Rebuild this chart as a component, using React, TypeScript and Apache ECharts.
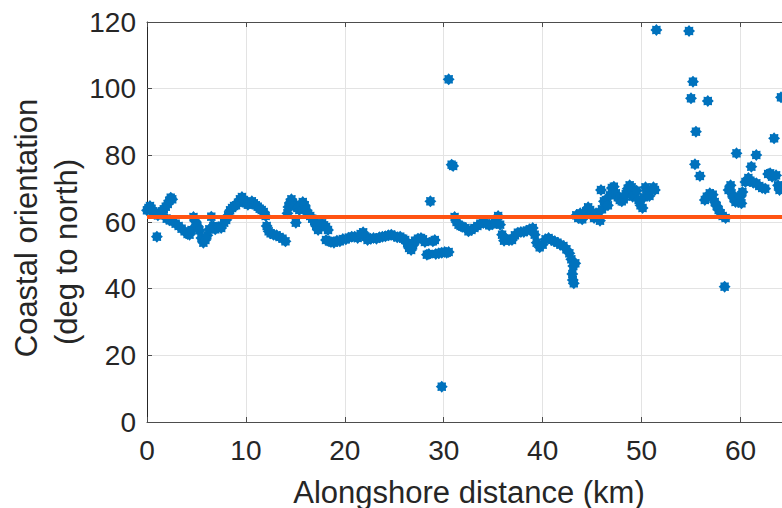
import React, { useEffect, useRef } from "react";
import * as echarts from "echarts";

// Alongshore distance (km) and coastal orientation (deg to north)
const distanceKm: number[] = [
  0.0, 0.15, 0.3, 0.45, 0.6, 0.8, 1.0, 1.1, 1.3, 1.5, 1.7, 1.9, 2.1, 2.25, 2.4, 2.55, 2.0, 2.3, 2.6, 2.9,
  3.2, 3.5, 3.8, 4.1, 4.3, 4.5, 4.7, 4.9, 5.1, 5.3, 5.5, 5.7, 5.9, 6.1, 6.3, 6.5, 6.7, 6.9, 7.2, 7.5,
  7.8, 8.0, 8.2, 8.4, 8.6, 8.8, 9.0, 9.2, 9.4, 9.6, 9.8, 10.0, 10.2, 10.4, 10.6, 10.8, 11.0, 11.2, 11.4, 11.6,
  11.8, 12.0, 12.1, 12.3, 12.5, 12.8, 13.1, 13.4, 13.7, 14.0, 14.2, 14.3, 14.45, 14.6, 14.75, 14.9, 15.05, 15.2, 15.4, 15.55,
  15.75, 15.95, 16.1, 16.3, 16.5, 16.7, 16.9, 17.1, 17.3, 17.5, 17.7, 17.9, 18.1, 18.3, 18.1, 18.4, 18.6,
  18.9, 19.2, 19.5, 19.8, 20.1, 20.4, 20.7, 21.0, 21.3, 21.6, 21.85, 22.1, 22.3, 22.6, 22.9, 23.2, 23.5, 23.8, 24.1, 24.4,
  24.7, 25.0, 25.3, 25.6, 25.9, 26.1, 26.3, 26.5, 26.7, 26.9, 27.1, 27.4, 27.7, 27.9, 28.1, 28.3, 28.5, 28.65, 28.9, 29.1,
  29.2, 29.5, 29.8, 29.8, 30.1, 30.3, 30.5, 30.5, 30.8, 30.95,
  31.1, 31.3, 31.5, 31.7, 31.9, 32.2, 32.5, 32.8, 33.1, 33.4, 33.7, 34.0, 34.3, 34.6, 34.9, 35.2, 35.5, 35.7, 35.9, 36.1,
  36.3, 36.6, 36.9, 37.2, 37.5, 37.8, 38.1, 38.4, 38.7, 39.0, 39.2, 39.4, 39.7, 40.0, 40.3, 40.6, 40.9, 41.2, 41.5, 41.8,
  42.1, 42.4, 42.7, 42.9, 43.1, 43.0, 43.05, 43.15, 43.3,
  43.4, 43.6, 43.8, 44.0, 44.2, 44.4, 44.6, 44.8, 45.0, 45.2, 45.4, 45.6, 45.8, 45.9, 46.0, 46.2, 46.4, 46.6, 46.8, 47.0,
  47.2, 47.4, 47.6, 47.8, 48.0, 48.2, 48.4, 48.6, 48.8, 49.0, 49.1, 49.3, 49.5, 49.7, 49.9, 50.1, 50.25, 50.4, 50.6, 50.8,
  51.0, 51.2, 51.35, 51.5,
  54.8, 55.0, 55.2, 55.5, 55.4, 55.9, 56.4, 56.7, 56.6, 56.9, 57.2, 57.4, 57.6, 57.8, 58.0, 58.2, 58.5, 58.4, 58.8, 59.0,
  59.1, 59.3, 59.5, 59.6, 59.8, 60.0, 60.1, 60.2, 60.5, 60.8, 61.0, 61.1, 61.3, 61.6, 61.6, 61.9, 62.2, 62.5, 62.8, 63.0,
  63.2, 63.4, 63.6, 63.8, 63.95, 64.1,
];

const orientationDeg: number[] = [
  63.5, 64.2, 64.8, 64.0, 63.2, 62.5, 55.6, 62.0, 62.8, 63.2, 63.8, 64.6, 65.4, 66.4, 67.3, 66.8, 61.0, 60.5, 60.2, 59.5,
  58.8, 58.0, 57.2, 56.4, 56.2, 57.6, 61.5, 60.2, 58.8, 57.5, 55.2, 53.8, 54.6, 56.0, 57.8, 61.6, 58.8, 57.8, 58.5, 58.2,
  59.8, 60.6, 62.0, 63.5, 64.2, 64.8, 65.0, 65.8, 66.8, 67.5, 66.6, 65.6, 65.2, 65.6, 66.2, 65.6, 65.0, 64.6, 64.0, 63.6,
  63.0, 61.8, 58.8, 57.2, 56.6, 56.2, 56.0, 55.5, 55.0, 54.2, 62.6, 64.5, 65.8, 66.8, 65.8, 64.8, 59.8, 64.2, 63.6, 65.2,
  66.0, 65.0, 63.6, 62.4, 61.8, 61.0, 60.2, 58.8, 57.6, 59.2, 59.6, 59.0, 58.5, 57.6, 54.6, 54.2, 54.0,
  53.8, 54.4, 54.2, 54.9, 54.8, 55.3, 55.6, 55.6, 55.2, 56.4, 56.9, 55.6, 54.6, 55.0, 55.2, 55.0, 55.4, 55.6, 55.7, 56.0,
  56.2, 55.8, 55.4, 55.6, 55.0, 54.6, 53.6, 52.2, 51.6, 53.0, 54.4, 55.0, 55.2, 54.8, 54.0, 50.2, 50.4, 66.2, 54.2, 54.6,
  50.4, 50.6, 50.8, 10.6, 51.0, 50.8, 51.0, 102.8, 77.2, 76.8,
  61.5, 60.0, 59.2, 58.8, 58.6, 58.2, 57.2, 57.6, 58.2, 58.8, 59.5, 59.7, 59.6, 59.0, 59.3, 60.0, 61.8, 59.2, 56.2, 54.4,
  55.0, 54.5, 54.6, 56.0, 56.8, 57.0, 57.0, 57.4, 57.8, 58.2, 56.2, 53.8, 52.4, 53.2, 54.8, 55.2, 54.6, 54.2, 53.8, 53.2,
  52.8, 51.8, 50.6, 48.8, 46.8, 44.4, 42.6, 41.6, 47.6,
  62.0, 61.2, 62.6, 60.8, 62.2, 63.2, 64.4, 63.6, 62.6, 61.2, 62.6, 61.6, 60.4, 69.6, 63.8, 66.2, 66.6, 65.0, 68.0, 70.2,
  70.6, 68.6, 67.4, 66.6, 66.2, 66.8, 68.4, 70.0, 71.0, 70.4, 67.6, 68.6, 69.4, 66.6, 65.0, 64.2, 67.4, 70.4, 69.0, 67.8,
  69.6, 70.4, 69.6, 117.6,
  117.3, 97.1, 102.1, 87.1, 77.3, 73.8, 66.6, 96.3, 67.6, 68.6, 68.2, 66.0, 64.8, 63.6, 62.6, 61.8, 61.2, 40.6, 69.6, 71.0,
  68.6, 67.2, 66.0, 80.6, 66.0, 67.6, 65.6, 69.0, 72.0, 73.2, 72.4, 76.6, 71.8, 80.1, 71.6, 70.8, 70.2, 70.0, 74.4, 74.6,
  73.6, 85.1, 74.0, 71.0, 69.6, 97.4,
];

// Mean orientation line
const meanLineX: number[] = [0, 64.2];
const meanLineY: number[] = [61.5, 61.5];

const xTickValues: number[] = [0, 10, 20, 30, 40, 50, 60];
const yTickValues: number[] = [0, 20, 40, 60, 80, 100, 120];

const FONT = "'Liberation Sans', Arial, Helvetica, sans-serif";
const AXIS_COLOR = "#262626";

function starPath(): string {
  const pts: string[] = [];
  for (let i = 0; i < 16; i++) {
    const a = (i * Math.PI) / 8;
    const r = i % 2 === 0 ? 1 : 0.74;
    pts.push(`${(50 + 50 * r * Math.sin(a)).toFixed(2)} ${(50 - 50 * r * Math.cos(a)).toFixed(2)}`);
  }
  return "path://M" + pts.join(" L") + " Z";
}

export default function App() {
  const ref = useRef<HTMLDivElement>(null);
  useEffect(() => {
    if (!ref.current) return;
    const chart = echarts.init(ref.current, undefined, { renderer: "svg" });
    const points = distanceKm.map((d, i) => [d, orientationDeg[i]]);
    const line = meanLineX.map((d, i) => [d, meanLineY[i]]);
    const xMax = 64.2;
    chart.setOption({
      animation: false,
      backgroundColor: "#ffffff",
      grid: { left: 147, top: 22, width: 635, height: 400, containLabel: false },
      xAxis: [
        {
          type: "value",
          position: "bottom",
          min: 0,
          max: xMax,
          interval: 10,
          axisLine: { show: true, onZero: false, lineStyle: { color: "#4d4d4d", width: 1 } },
          axisTick: { show: true, inside: true, length: 5, lineStyle: { color: "#4d4d4d" } },
          axisLabel: {
            show: true,
            fontSize: 28,
            fontFamily: FONT,
            color: AXIS_COLOR,
            margin: 14,
            showMaxLabel: false,
            formatter: (v: number) => (xTickValues.includes(v) ? String(v) : ""),
          },
          splitLine: { show: true, lineStyle: { color: "#e3e3e3", width: 1 } },
        },
        {
          type: "value",
          position: "top",
          min: 0,
          max: xMax,
          interval: 10,
          axisLine: { show: true, onZero: false, lineStyle: { color: "#4d4d4d", width: 1 } },
          axisTick: { show: true, inside: true, length: 5, lineStyle: { color: "#4d4d4d" } },
          axisLabel: { show: false },
          splitLine: { show: false },
        },
      ],
      yAxis: {
        type: "value",
        min: 0,
        max: 120,
        interval: 20,
        axisLine: { show: true, onZero: false, lineStyle: { color: AXIS_COLOR, width: 1 } },
        axisTick: { show: true, inside: true, length: 5, lineStyle: { color: "#4d4d4d" } },
        axisLabel: {
          fontSize: 28,
          fontFamily: FONT,
          color: AXIS_COLOR,
          margin: 11,
          formatter: (v: number) => (yTickValues.includes(v) ? String(v) : ""),
        },
        splitLine: { show: true, lineStyle: { color: "#e3e3e3", width: 1 } },
      },
      graphic: [
        {
          type: "text",
          x: 26,
          y: 228,
          rotation: Math.PI / 2,
          style: {
            text: "Coastal orientation",
            fontSize: 31,
            fontFamily: FONT,
            fill: AXIS_COLOR,
            textAlign: "center",
            textVerticalAlign: "middle",
            align: "center",
            verticalAlign: "middle",
          },
        },
        {
          type: "text",
          x: 66,
          y: 252,
          rotation: Math.PI / 2,
          style: {
            text: "(deg to north)",
            fontSize: 31,
            fontFamily: FONT,
            fill: AXIS_COLOR,
            textAlign: "center",
            textVerticalAlign: "middle",
            align: "center",
            verticalAlign: "middle",
          },
        },
        {
          type: "text",
          x: 469,
          y: 492,
          style: {
            text: "Alongshore distance (km)",
            fontSize: 31,
            fontFamily: FONT,
            fill: AXIS_COLOR,
            textAlign: "center",
            textVerticalAlign: "middle",
            align: "center",
            verticalAlign: "middle",
          },
        },
      ],
      series: [
        {
          type: "scatter",
          xAxisIndex: 0,
          data: points,
          symbol: starPath(),
          symbolSize: 12,
          itemStyle: { color: "#0072BD", opacity: 1 },
          z: 2,
        },
        {
          type: "line",
          xAxisIndex: 0,
          data: line,
          symbol: "none",
          lineStyle: { color: "#FF5312", width: 4 },
          z: 3,
        },
      ],
    });
    return () => chart.dispose();
  }, []);
  return (
    <div
      ref={ref}
      style={{ position: "absolute", left: 0, top: 0, width: 782, height: 508 }}
    />
  );
}
